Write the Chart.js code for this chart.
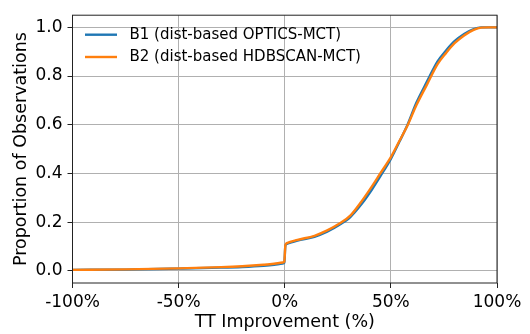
<!DOCTYPE html>
<html>
<head>
<meta charset="utf-8">
<script src="https://cdn.jsdelivr.net/npm/chart.js@4.4.1/dist/chart.umd.min.js"></script>
<style>
  body { margin: 0; background: #fff; }
  #cdfChart { display: block; }
</style>
</head>
<body>
<canvas id="cdfChart" width="530" height="334"></canvas>
<script>
// TT improvement (%) sample points for the cumulative curves
const improvementPct = [-100, -75, -50, -30, -20, -10, -5, -1, -0.2, 0.3, 1, 6, 14, 20, 26, 31, 36, 41, 45, 50, 54, 58, 62, 67, 72, 76, 80, 84.5, 89, 92.5, 96, 100];

// proportion of observations at or below each improvement
const b1Optics = [0.004, 0.005, 0.009, 0.013, 0.016, 0.021, 0.025, 0.030, 0.034, 0.103, 0.111, 0.124, 0.140, 0.161, 0.190, 0.222, 0.272, 0.333, 0.388, 0.460, 0.530, 0.603, 0.690, 0.777, 0.860, 0.905, 0.943, 0.973, 0.993, 1.0, 1.0, 1.0];
const b2Hdbscan = [0.004, 0.006, 0.010, 0.015, 0.019, 0.025, 0.029, 0.034, 0.038, 0.105, 0.114, 0.127, 0.144, 0.166, 0.195, 0.228, 0.283, 0.346, 0.400, 0.467, 0.533, 0.600, 0.680, 0.765, 0.849, 0.895, 0.935, 0.967, 0.990, 0.999, 1.0, 1.0];

const seriesLabels = ['B1 (dist-based OPTICS-MCT)', 'B2 (dist-based HDBSCAN-MCT)'];
const xTicks = [-100, -50, 0, 50, 100];
const yTicks = [0, 0.2, 0.4, 0.6, 0.8, 1.0];

Chart.defaults.font.family = "'DejaVu Sans', sans-serif";
Chart.defaults.color = '#000';

function toPoints(ys) {
    return improvementPct.map((x, i) => ({ x: x, y: ys[i] }));
}

// black box around the plot area, all four sides
const frame = {
    id: 'frame',
    afterDatasetsDraw(chart) {
        const { ctx, chartArea: a } = chart;
        ctx.save();
        ctx.strokeStyle = '#222';
        ctx.lineWidth = 1;
        ctx.strokeRect(a.left, a.top, a.right - a.left, a.bottom - a.top);
        ctx.restore();
    }
};

// legend in the upper left corner, no box
const insideLegend = {
    id: 'insideLegend',
    afterDraw(chart) {
        const { ctx, chartArea: a } = chart;
        ctx.save();
        ctx.font = "15px 'DejaVu Sans', sans-serif";
        ctx.textBaseline = 'middle';
        chart.data.datasets.forEach((ds, i) => {
            const y = a.top + 19.5 + i * 22.3;
            ctx.strokeStyle = ds.borderColor;
            ctx.lineWidth = ds.borderWidth;
            ctx.beginPath();
            ctx.moveTo(a.left + 12.5, y);
            ctx.lineTo(a.left + 44.5, y);
            ctx.stroke();
            ctx.fillStyle = '#000';
            ctx.fillText(ds.label, a.left + 57, y + 0.5);
        });
        ctx.restore();
    }
};

let ctx = document.getElementById('cdfChart').getContext('2d');
let cdfChart = new Chart(ctx, {
    type: 'line',
    data: {
        datasets: [{
            label: seriesLabels[0],
            data: toPoints(b1Optics),
            borderColor: '#1f77b4',
            borderWidth: 2.4,
            pointRadius: 0,
            cubicInterpolationMode: 'monotone',
            order: 1
        }, {
            label: seriesLabels[1],
            data: toPoints(b2Hdbscan),
            borderColor: '#ff7f0e',
            borderWidth: 2.4,
            pointRadius: 0,
            cubicInterpolationMode: 'monotone',
            order: 0
        }]
    },
    options: {
        responsive: false,
        animation: false,
        devicePixelRatio: 1,
        layout: {
            padding: { left: 0, top: 10, right: 33, bottom: 0 }
        },
        plugins: {
            legend: { display: false },
            tooltip: { enabled: false }
        },
        scales: {
            x: {
                type: 'linear',
                min: -100,
                max: 100,
                afterBuildTicks: axis => { axis.ticks = xTicks.map(v => ({ value: v })); },
                afterFit: axis => { axis.height = 51; },
                grid: {
                    color: '#b0b0b0',
                    lineWidth: 1,
                    tickColor: '#222',
                    tickLength: 5
                },
                border: { display: false },
                ticks: {
                    font: { size: 17 },
                    padding: 4,
                    maxRotation: 0,
                    autoSkip: false,
                    callback: v => v + '%'
                },
                title: {
                    display: true,
                    text: 'TT Improvement (%)',
                    font: { size: 17.5 },
                    padding: { top: 0, bottom: 1 }
                }
            },
            y: {
                min: -0.05,
                max: 1.05,
                afterBuildTicks: axis => { axis.ticks = yTicks.map(v => ({ value: v })); },
                afterFit: axis => { axis.width = 72.5; },
                grid: {
                    color: '#b0b0b0',
                    lineWidth: 1,
                    tickColor: '#222',
                    tickLength: 5
                },
                border: { display: false },
                ticks: {
                    font: { size: 17 },
                    padding: 5,
                    callback: v => v.toFixed(1)
                },
                title: {
                    display: true,
                    text: 'Proportion of Observations',
                    font: { size: 17.5 },
                    padding: { top: 11, bottom: 0 }
                }
            }
        }
    },
    plugins: [frame, insideLegend]
});
</script>
</body>
</html>
